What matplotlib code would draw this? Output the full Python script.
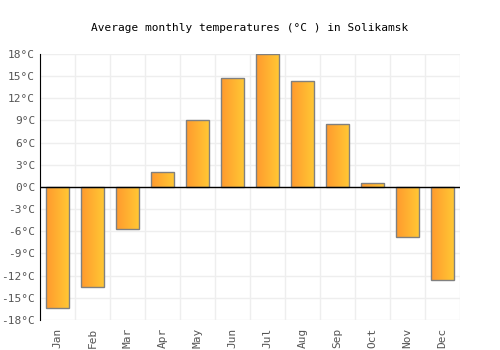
import numpy as np
import matplotlib.pyplot as plt
from matplotlib.colors import LinearSegmentedColormap

months = ["Jan", "Feb", "Mar", "Apr", "May", "Jun", "Jul", "Aug", "Sep", "Oct", "Nov", "Dec"]
temps = [-16.4, -13.6, -5.7, 2.0, 9.0, 14.8, 18.0, 14.3, 8.5, 0.5, -6.8, -12.6]
yticks = list(range(-18, 19, 3))
ytick_labels = [f"{t}°C" for t in yticks]

plt.rcParams["font.family"] = ["DejaVu Sans Mono"]

fig = plt.figure(figsize=(5, 3.5), dpi=100)
ax = fig.add_axes([0.08, 0.086, 0.84, 0.76])

x = np.arange(len(months))
bars = ax.bar(x, temps, width=0.66, color="none", edgecolor="#808080", linewidth=1, zorder=3)

# horizontal orange -> yellow gradient inside each bar
cmap = LinearSegmentedColormap.from_list("grad", ["#ff9a2e", "#ffc934"])
grad = np.linspace(0, 1, 64).reshape(1, -1)
for b in bars:
    x0, y0 = b.get_x(), b.get_y()
    w, h = b.get_width(), b.get_height()
    im = ax.imshow(grad, cmap=cmap, aspect="auto", extent=[x0, x0 + w, y0, y0 + h],
                   zorder=2, interpolation="bilinear")
    im.set_clip_path(b)

ax.set_xlim(-0.5, len(months) - 0.5)
ax.set_ylim(-18, 18)
ax.set_yticks(yticks)
ax.set_yticklabels(ytick_labels)
ax.set_xticks(x)
ax.set_xticklabels(months, rotation=90)
ax.set_xticks(np.arange(-0.5, len(months), 1), minor=True)

ax.grid(True, which="major", axis="y", color="#eeeeee", linewidth=1, zorder=0)
ax.grid(True, which="minor", axis="x", color="#eeeeee", linewidth=1, zorder=0)
ax.tick_params(axis="both", which="both", length=0, labelsize=8, colors="#555555")
ax.tick_params(axis="x", pad=6)

for s in ["top", "right", "bottom"]:
    ax.spines[s].set_visible(False)
ax.spines["left"].set_color("black")
ax.axhline(0, color="black", linewidth=1, zorder=4)

fig.suptitle("Average monthly temperatures (°C ) in Solikamsk", fontsize=8, y=0.935)

fig.savefig("out.png")
